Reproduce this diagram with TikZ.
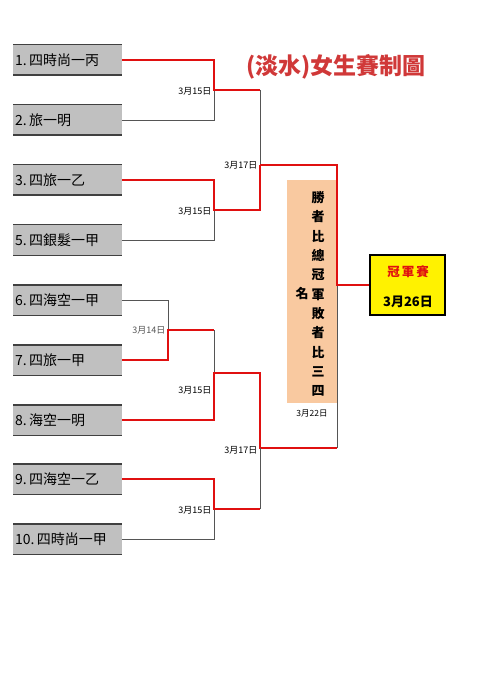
\documentclass[tikz,border=0pt]{standalone}
\usepackage{fontspec}
\newfontfamily\cjk{Noto Sans CJK TC}
\definecolor{boxgray}{HTML}{C0C0C0}
\definecolor{edgegray}{HTML}{404040}
\definecolor{winred}{HTML}{E01010}
\definecolor{lossgray}{HTML}{555555}
\definecolor{peach}{HTML}{F9C9A0}
\definecolor{titlered}{HTML}{D03838}
\begin{document}
\begin{tikzpicture}[x=1pt,y=-1pt,
  team/.style={fill=boxgray,minimum width=109pt,minimum height=30pt,inner sep=0pt,anchor=west,
    font=\cjk\fontsize{14}{15}\selectfont,text width=107pt,align=left},
  win/.style={draw=winred,line width=1.8pt},
  lose/.style={draw=lossgray,line width=0.9pt},
  datelbl/.style={font=\cjk\fontsize{9}{10}\selectfont,anchor=east,inner sep=0.5pt}
]
\useasboundingbox (0,0) rectangle (495,700);
% teams
\foreach \n/\y/\t in {b1/60/1.\,四時尚一丙, b2/120/2.\,旅一明, b3/180/3.\,四旅一乙, b5/240/5.\,四銀髮一甲,
  b6/300/6.\,四海空一甲, b7/360/7.\,四旅一甲, b8/420/8.\,海空一明, b9/479/9.\,四海空一乙, b10/539/10.\,四時尚一甲}{
  \node[team] (\n) at (13,\y) {\hspace*{1pt}\t};
  \draw[edgegray,line width=1.4pt] (\n.north west) -- (\n.north east);
  \draw[edgegray,line width=1.4pt] (\n.south west) -- (\n.south east);
}
% coordinates
\coordinate (j12) at (214,90);
\coordinate (u1) at (260,90);
\coordinate (j35) at (214,210);
\coordinate (u2) at (260,210);
\coordinate (jA) at (260,165);
\coordinate (jF) at (337,285);
\coordinate (j67) at (168,330);
\coordinate (v1) at (214,330);
\coordinate (j678) at (214,373);
\coordinate (v2) at (260,373);
\coordinate (jB) at (260,448);
\coordinate (v3) at (337,448);
\coordinate (j910) at (214,509);
\coordinate (v4) at (260,509);
% orange box
\node[fill=peach,minimum width=50pt,minimum height=223pt,inner sep=0pt] (ob) at (312,291.5) {};
\node[font=\cjk\bfseries\fontsize{13}{19.3}\selectfont,align=center,inner sep=0pt] (vt) at (318,294)
  {勝\\者\\比\\總\\冠\\軍\\敗\\者\\比\\三\\四};
\node[font=\cjk\bfseries\fontsize{13}{14}\selectfont,inner sep=0pt] (ming) at (302,294) {名};
\node[font=\cjk\fontsize{8.5}{9}\selectfont,inner sep=0pt] (d22) at (312,413) {3月22日};
% final box
\node[draw=black,line width=1.5pt,fill=yellow,minimum width=75pt,minimum height=60pt,inner sep=0pt] (fin) at (407.5,285) {};
\node[font=\cjk\bfseries\fontsize{12.5}{13}\selectfont,text=winred,inner sep=0pt] (ft1) at (408,272) {冠\hspace{2pt}軍\hspace{2pt}賽};
\node[font=\cjk\bfseries\fontsize{13}{14}\selectfont,inner sep=0pt] (ft2) at (408,302) {3月26日};
% title
\node[font=\cjk\bfseries\fontsize{23}{24}\selectfont,text=titlered,inner sep=0pt] (title) at (336,67) {(淡水)女生賽制圖};
% lines top
\draw[lose] (b2.east) -| (j12);
\draw[win] (b1.east) -| (j12) -- (u1);
\draw[lose] (u1) -- (jA);
\draw[lose] (b5.east) -| (j35);
\draw[win] (b3.east) -| (j35) -- (u2) -- (jA);
\draw[lose] (jF) -- (v3);
\draw[win] (jA) -| (jF) -- (fin.west);
% lines bottom
\draw[lose] (b6.east) -| (j67);
\draw[win] (b7.east) -| (j67) -- (v1);
\draw[lose] (v1) -- (j678);
\draw[win] (b8.east) -| (j678) -- (v2) -- (jB) -- (v3);
\draw[lose] (b10.east) -| (j910);
\draw[lose] (v4) -- (jB);
\draw[win] (b9.east) -| (j910) -- (v4);
% date labels
\node[datelbl] (l1) at (212,91) {3月15日};
\node[datelbl] (l2) at (212,211) {3月15日};
\node[datelbl] (l3) at (258,165) {3月17日};
\node[datelbl,text=lossgray] (l4) at (166,330) {3月14日};
\node[datelbl] (l5) at (212,390) {3月15日};
\node[datelbl] (l6) at (258,450) {3月17日};
\node[datelbl] (l7) at (212,510) {3月15日};
\end{tikzpicture}
\end{document}
